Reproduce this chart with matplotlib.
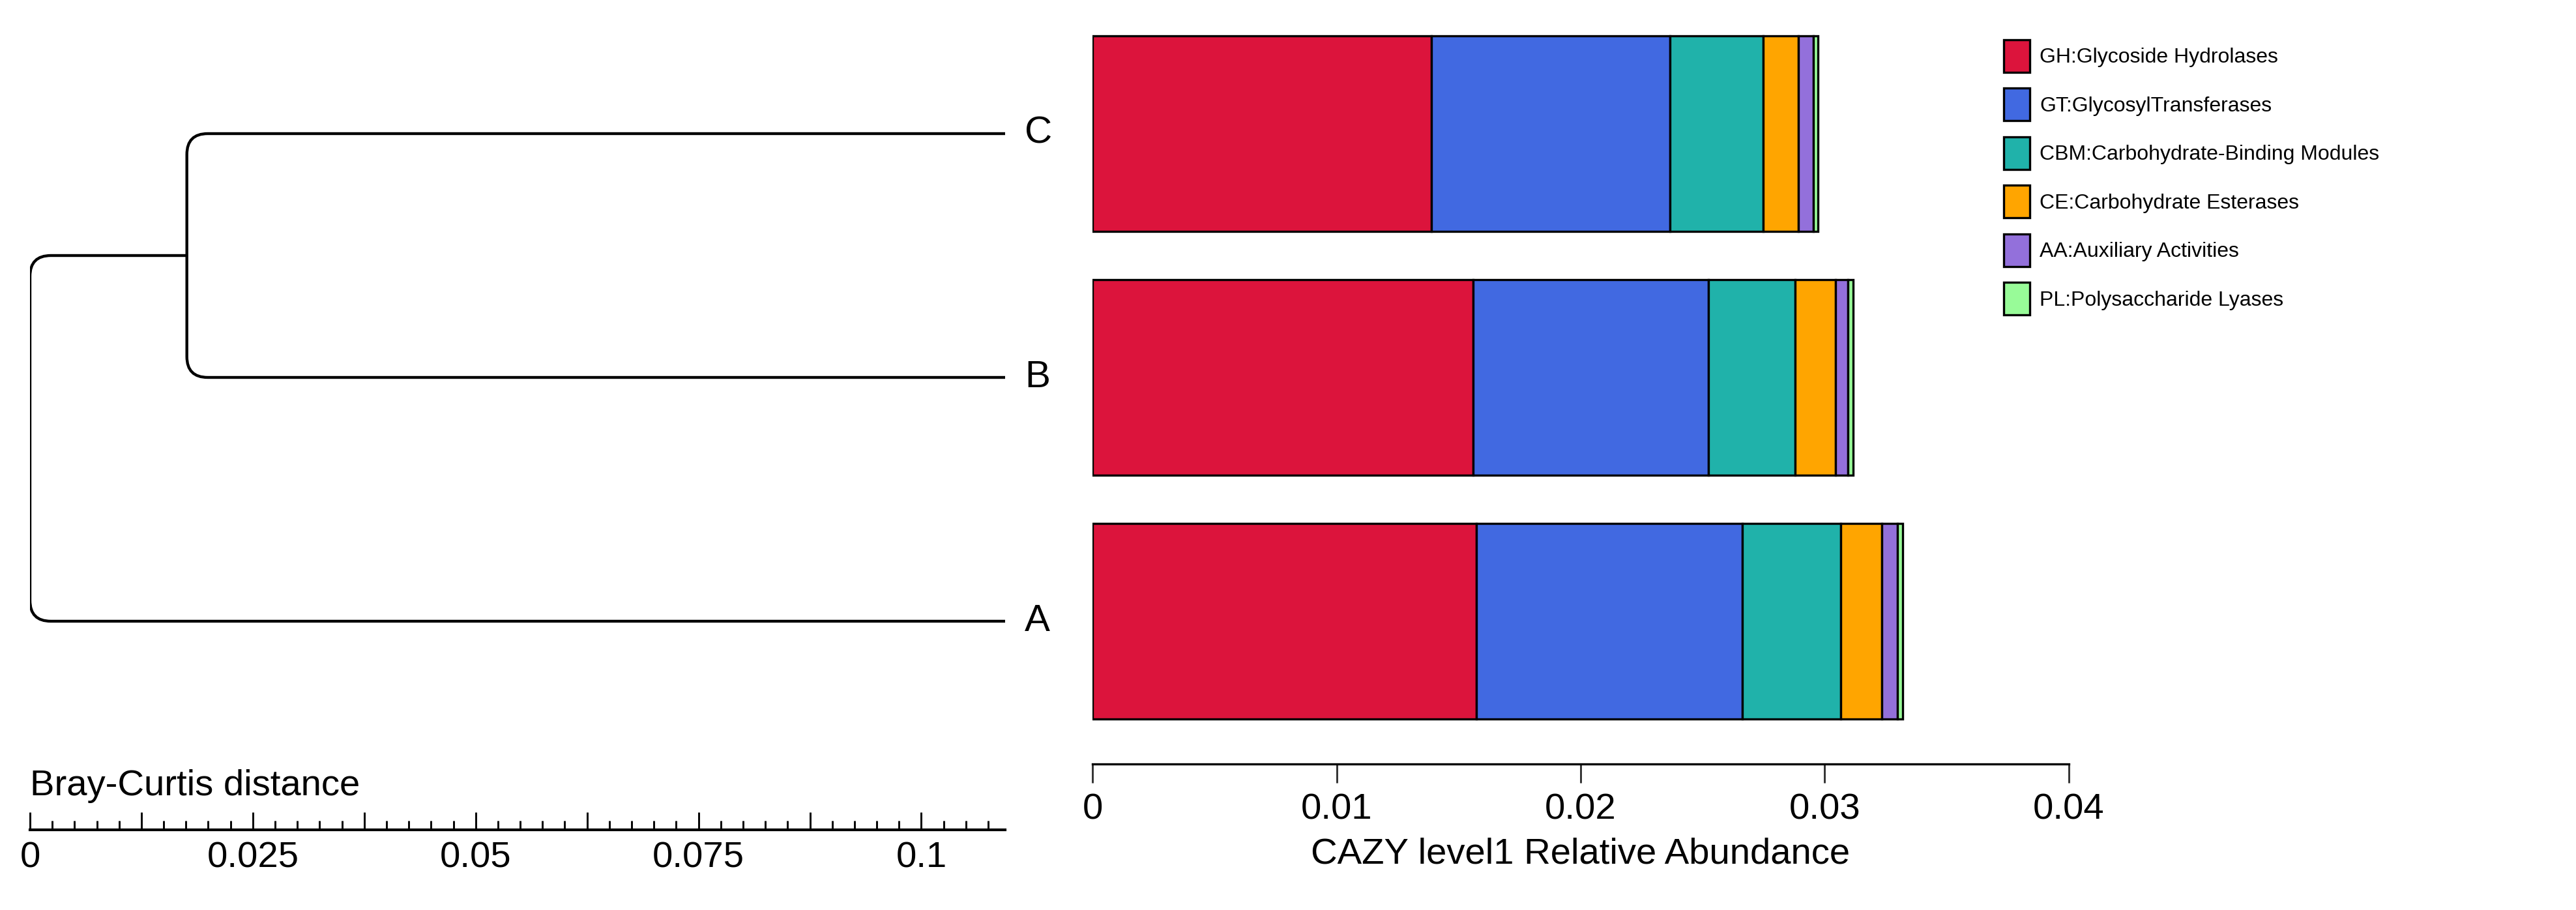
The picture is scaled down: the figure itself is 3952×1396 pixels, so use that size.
import matplotlib
matplotlib.use("Agg")
import matplotlib.pyplot as plt
import numpy as np
from matplotlib.path import Path
from matplotlib.patches import PathPatch, Patch
from matplotlib import transforms

plt.rcParams['font.family'] = ['Liberation Sans', 'DejaVu Sans']

# samples, bottom to top
samples = ["A", "B", "C"]

categories = ["GH:Glycoside Hydrolases", "GT:GlycosylTransferases",
              "CBM:Carbohydrate-Binding Modules", "CE:Carbohydrate Esterases",
              "AA:Auxiliary Activities", "PL:Polysaccharide Lyases"]
colors = ["#DC143C", "#4169E1", "#20B2AA", "#FFA500", "#9370DB", "#98FB98"]

# relative abundance per category, for A, B, C
GH = [0.01573, 0.01559, 0.01389]
GT = [0.01088, 0.00964, 0.00976]
CBM = [0.00405, 0.00355, 0.00383]
CE = [0.00168, 0.00166, 0.00144]
AA = [0.00064, 0.00051, 0.00060]
PL = [0.00021, 0.00021, 0.00019]

# hierarchical clustering (Bray-Curtis): merge heights, leaves at 0
bc_height = 0.0918     # B + C
root_height = 0.1094   # A + (B, C)

W, H = 3952, 1396
DPI = 300
fig = plt.figure(figsize=(W / DPI, H / DPI), dpi=DPI)


def frac_box(left, top, right, bottom):
    return [left / W, 1 - bottom / H, (right - left) / W, (bottom - top) / H]


ylim = (-0.5856, 2.5)

# ---- stacked bars ----
ax = fig.add_axes(frac_box(1676, 18, 3174, 1172))
ypos = np.arange(len(samples))
left = np.zeros(len(samples))
for vals, lab, col in zip([GH, GT, CBM, CE, AA, PL], categories, colors):
    ax.barh(ypos, vals, left=left, height=0.802, color=col, edgecolor='black',
            linewidth=0.8, label=lab)
    left = left + np.array(vals)

ax.set_xlim(0, 0.04)
ax.set_ylim(*ylim)
for s in ['left', 'top', 'right']:
    ax.spines[s].set_visible(False)
ax.spines['bottom'].set_linewidth(0.8)
ax.set_yticks([])
ax.set_xticks([0, 0.01, 0.02, 0.03, 0.04])
ax.set_xticklabels(['%g' % t for t in [0, 0.01, 0.02, 0.03, 0.04]])
ax.tick_params(axis='x', direction='out', length=7, width=0.7, pad=3.6,
               labelsize=13.5, color='#333333')
ax.set_xlabel('CAZY level1 Relative Abundance', fontsize=13.5, labelpad=4)

# ---- dendrogram ----
ad = fig.add_axes(frac_box(46, 18, 1542, 1172))
ad.set_xlim(0, root_height)
ad.set_ylim(*ylim)
for s in ['left', 'top', 'right']:
    ad.spines[s].set_visible(False)
ad.spines['bottom'].set_position(('outward', 24.2))
ad.spines['bottom'].set_linewidth(1.0)
ad.set_yticks([])

rx = 32 * root_height / 1496
ry = 32 / 374.0


def elbow(xn, xc1, y1, xc2, y2):
    # rounded "[" shape joining two children at node x position xn
    verts = [(xc1, y1), (xn + rx, y1), (xn, y1), (xn, y1 - ry),
             (xn, y2 + ry), (xn, y2), (xn + rx, y2), (xc2, y2)]
    codes = [Path.MOVETO, Path.LINETO, Path.CURVE3, Path.CURVE3,
             Path.LINETO, Path.CURVE3, Path.CURVE3, Path.LINETO]
    ad.add_patch(PathPatch(Path(verts, codes), fill=False, lw=1.05,
                           edgecolor='black', capstyle='butt'))


leaf_x = root_height - 0.0
bc_x = root_height - bc_height
root_x = root_height - root_height
bc_y = (ypos[1] + ypos[2]) / 2.0
elbow(bc_x, leaf_x, ypos[2], leaf_x, ypos[1])
elbow(root_x, bc_x, bc_y, leaf_x, ypos[0])

for y, s in zip(ypos, samples):
    ad.annotate(s, xy=(leaf_x, y), xytext=(7.2, 0), textcoords='offset points',
                va='center', ha='left', fontsize=14, annotation_clip=False)

major = np.arange(0, 0.108, 0.0125)
ad.set_xticks(major)
ad.set_xticklabels(['%g' % round(t, 4) if abs(t / 0.025 - round(t / 0.025)) < 1e-6 else ''
                    for t in major])
ad.set_xticks(np.arange(0, 0.1076, 0.0025), minor=True)
ad.tick_params(axis='x', which='major', direction='in', length=6.5, width=0.7,
               pad=4.3, labelsize=13.5)
ad.tick_params(axis='x', which='minor', direction='in', length=3.4, width=0.7)

tr = transforms.blended_transform_factory(ad.transData, fig.transFigure)
ad.text(0, 1 - 1220 / H, 'Bray-Curtis distance', transform=tr, fontsize=13.5,
        ha='left', va='baseline')

# ---- legend ----
handles = [Patch(facecolor=c, edgecolor='black', linewidth=0.8, label=l)
           for c, l in zip(colors, categories)]
fig.legend(handles=handles, loc='upper left',
           bbox_to_anchor=(3074 / W, 1 - 61 / H), frameon=False,
           borderpad=0, borderaxespad=0, handlelength=1.25, handleheight=2.02,
           handletextpad=0.47, labelspacing=0.764, fontsize=7.7)

fig.savefig('out.png', dpi=DPI)
